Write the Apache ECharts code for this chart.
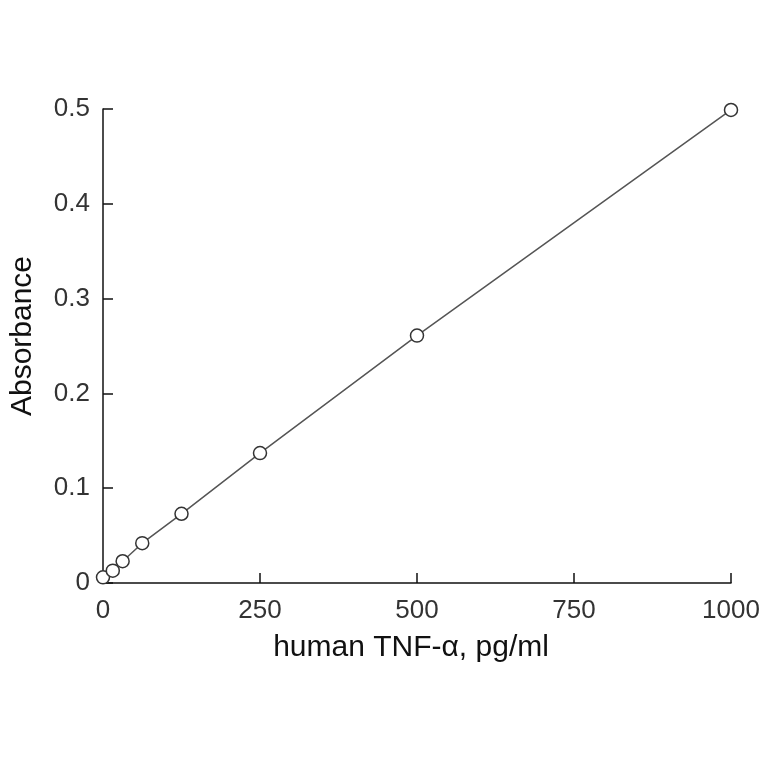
<!DOCTYPE html>
<html>
<head>
<meta charset="utf-8">
<script src="https://cdn.jsdelivr.net/npm/echarts@6/dist/echarts.min.js"></script>
<style>
html,body{margin:0;padding:0;background:#fff;}
#chart{width:764px;height:764px;}
</style>
</head>
<body>
<div id="chart"></div>
<script>
// standard curve, concentration vs absorbance
var concentrations=[0,15.6,31.25,62.5,125,250,500,1000];
var absorbance=[0.006,0.013,0.023,0.042,0.073,0.137,0.261,0.499];
var xTicks=[0,250,500,750,1000];
var yTicks=[0,0.1,0.2,0.3,0.4,0.5];

var points=concentrations.map(function(c,i){return [c,absorbance[i]];});

var myChart=echarts.init(document.getElementById('chart'));
var axisCommon={
	axisLine:{show:true,lineStyle:{color:'#111',width:1.5}},
	axisTick:{show:true,inside:true,length:10,lineStyle:{color:'#111',width:1.5}},
	splitLine:{show:false},
	nameLocation:'middle'
};
var option={
	backgroundColor:'#fff',
	animation:false,
	grid:{left:99,right:33,top:109,bottom:181},
	xAxis:Object.assign({},axisCommon,{
		type:'value',
		min:xTicks[0],
		max:xTicks[xTicks.length-1],
		interval:250,
		name:'human TNF-α, pg/ml',
		nameGap:50,
		nameTextStyle:{fontFamily:'Liberation Sans',fontSize:30,color:'#111',padding:[0,12,0,0]},
		axisLabel:{fontFamily:'Liberation Sans',fontSize:26,color:'#333',margin:15,
			formatter:function(v){return String(v);}}
	}),
	yAxis:Object.assign({},axisCommon,{
		type:'value',
		min:yTicks[0],
		max:yTicks[yTicks.length-1],
		interval:0.1,
		name:'Absorbance',
		nameGap:65,
		nameTextStyle:{fontFamily:'Liberation Sans',fontSize:30,color:'#111',padding:[0,0,0,20]},
		axisLabel:{fontFamily:'Liberation Sans',fontSize:26,color:'#333',margin:13}
	}),
	series:[{
		type:'line',
		data:points,
		symbol:'circle',
		symbolSize:13,
		showAllSymbol:true,
		lineStyle:{color:'#555',width:1.5},
		itemStyle:{color:'#fff',borderColor:'#333',borderWidth:1.5}
	}]
};
myChart.setOption(option);
</script>
</body>
</html>
